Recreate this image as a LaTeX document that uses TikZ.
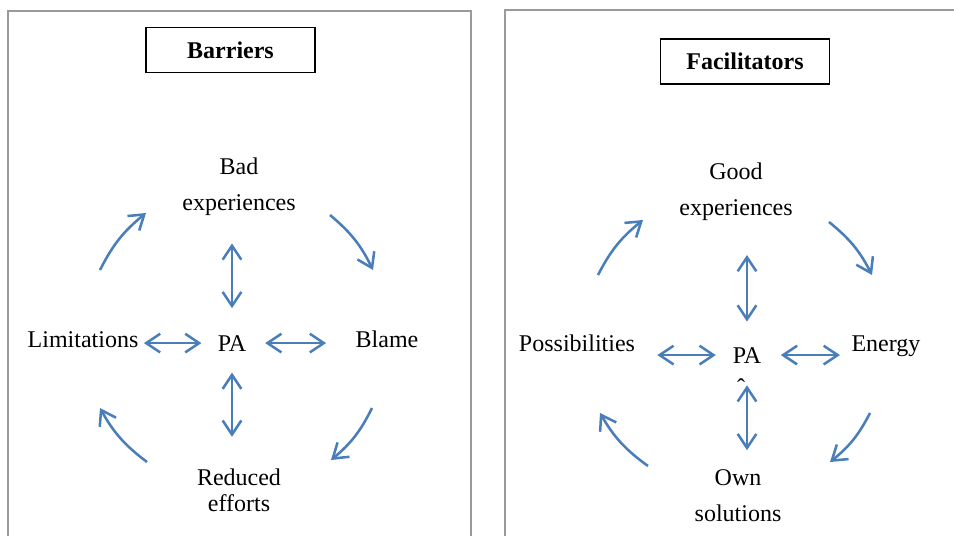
\documentclass[tikz,border=0pt]{standalone}
\usepackage{fontspec}
\setmainfont{Liberation Serif}
\usepackage{tikz}
\usetikzlibrary{arrows.meta}
\definecolor{LinkBlue}{HTML}{4A7EBB}
\definecolor{FrameGray}{HTML}{9A9A9A}

\begin{document}
\begin{tikzpicture}[
      x=0.75pt, y=-0.75pt,
      font=\fontsize{18}{27}\selectfont,
      panel/.style={draw=FrameGray, line width=0.9pt},
      titlebox/.style={
        draw=black, line width=1.1pt, inner sep=0pt,
        minimum width=127pt, minimum height=34pt,
        font=\fontsize{18}{27}\selectfont\bfseries
      },
      lbl/.style={align=center, anchor=base, inner sep=0pt},
      link/.style={{Straight Barb[length=10.5pt,width=14pt]}-{Straight Barb[length=10.5pt,width=14pt]}, line width=1.9pt, LinkBlue},
      cyc/.style={-{Straight Barb[length=10.5pt,width=14pt]}, line width=1.9pt, LinkBlue}
    ]
      \useasboundingbox (0,0) rectangle (954,536);

      % two panels, open at the bottom
      \draw[panel] (8,536) -- (8,11) -- (471,11) -- (471,536);
      \draw[panel] (505,536) -- (505,10) -- (954,10);

      % Barriers
      \node[titlebox] (bar) at (230.5,50) {Barriers};
      \node[lbl] (bad) at (239,210) {Bad\\experiences};
      \node[lbl] (lim) at (83,347) {Limitations};
      \node[lbl] (pa1) at (232,351) {PA};
      \node[lbl] (blm) at (387,347) {Blame};
      \node[lbl, font=\fontsize{18}{19}\selectfont] (red) at (239,511) {Reduced\\efforts};

      \draw[link, shorten <=20pt, shorten >=21pt] (pa1.north) -- (pa1.north |- bad.south);
      \draw[link, shorten <=16pt, shorten >=24pt] (pa1.south) -- (pa1.south |- red.north);
      \draw[link, shorten <=12pt, shorten >=4pt] (pa1.west) -- (pa1.west -| lim.east);
      \draw[link, shorten <=14pt, shorten >=22pt] (pa1.east) -- (pa1.east -| blm.west);

      \coordinate (la1) at (100,270); \coordinate (la2) at (146,213);
      \coordinate (la3) at (330,215); \coordinate (la4) at (373,270);
      \coordinate (la5) at (372,408); \coordinate (la6) at (331,460);
      \coordinate (la7) at (147,462); \coordinate (la8) at (100,408);

      % Facilitators
      \node[titlebox] (fac) at (745,61.5) {Facilitators};
      \node[lbl] (good) at (736,215) {Good\\experiences};
      \node[lbl] (pos) at (577,351) {Possibilities};
      \node[lbl] (pa2) at (747,363) {PA};
      \node[lbl] (nrg) at (886,351) {Energy};
      \node[lbl] (own) at (738,521) {Own\\solutions};
      \node[lbl] (hat) at (741,395) {\symbol{"02C6}};

      \draw[link, shorten <=19pt, shorten >=26pt] (pa2.north) -- (pa2.north |- good.south);
      \draw[link, shorten <=16.5pt, shorten >=14pt] (pa2.south) -- (pa2.south |- own.north);
      \draw[link, shorten <=12.5pt, shorten >=16.5pt] (pa2.west) -- (pa2.west -| pos.east);
      \draw[link, shorten <=14.5pt, shorten >=8.5pt] (pa2.east) -- (pa2.east -| nrg.west);

      \coordinate (ra1) at (598,275); \coordinate (ra2) at (643,220);
      \coordinate (ra3) at (829,222); \coordinate (ra4) at (872,275);
      \coordinate (ra5) at (870,413); \coordinate (ra6) at (830,462);
      \coordinate (ra7) at (648,466); \coordinate (ra8) at (600,413);

      \foreach \a/\b in {la1/la2, la3/la4, la5/la6, la7/la8, ra1/ra2, ra3/ra4, ra5/ra6, ra7/ra8}{\draw[cyc] (\a) to[bend left=12] (\b);}
    \end{tikzpicture}
\end{document}
